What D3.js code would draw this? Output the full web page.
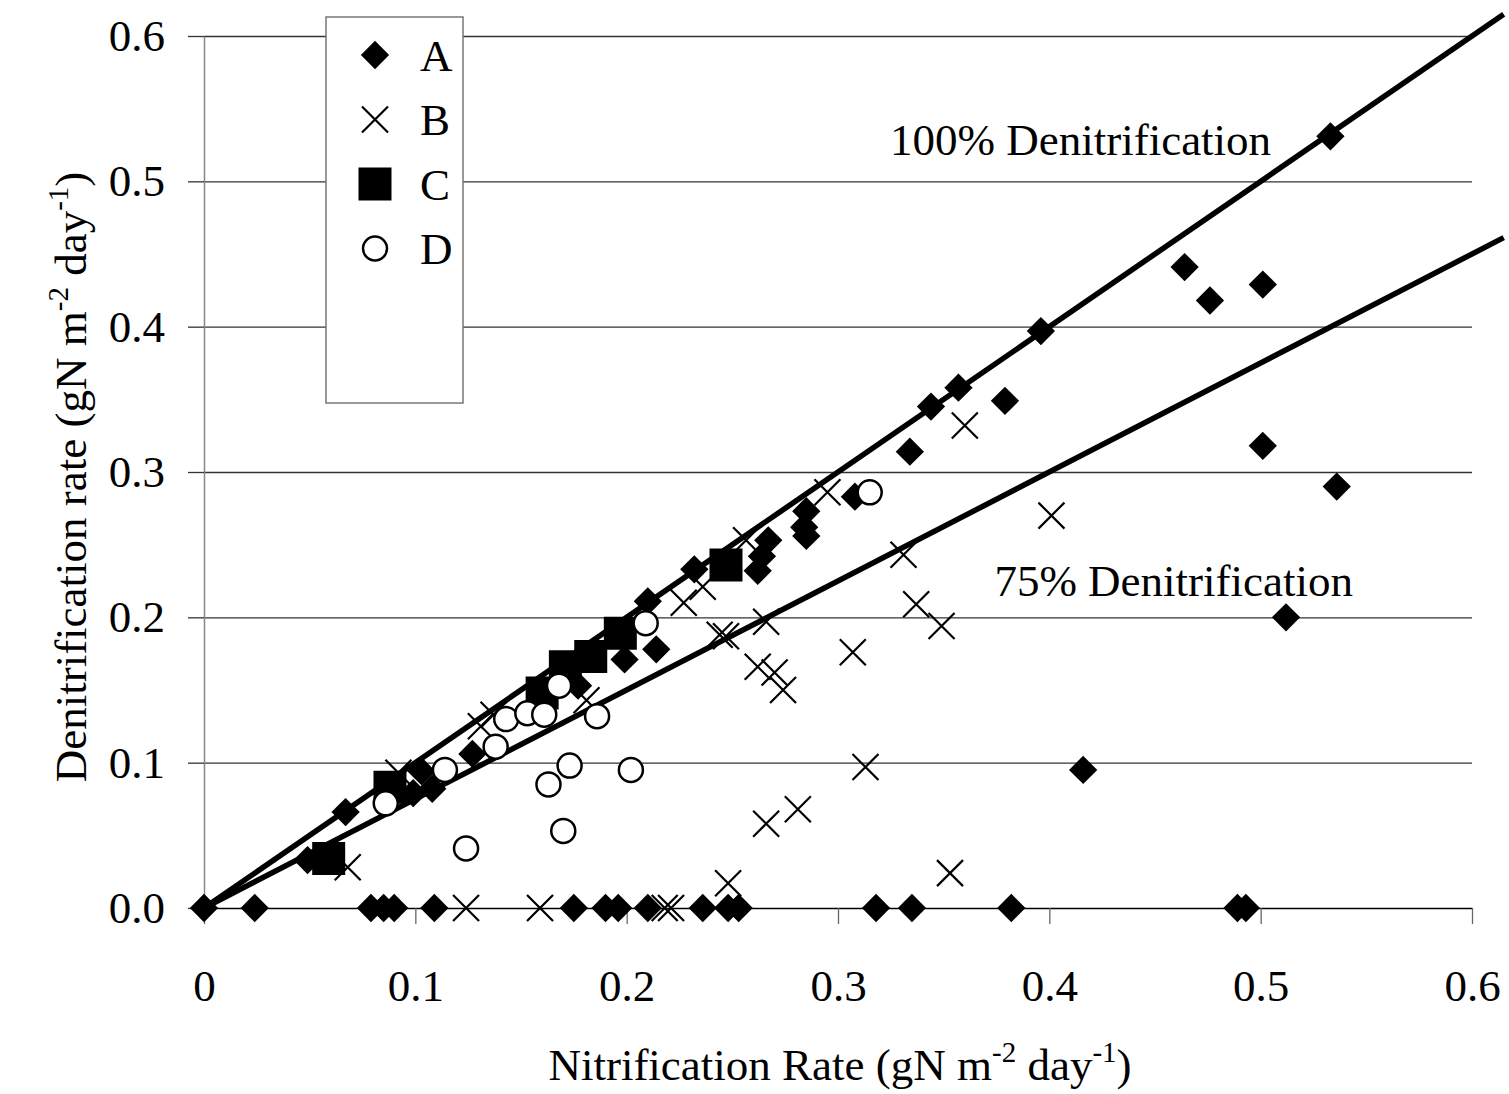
<!DOCTYPE html>
<html>
<head>
<meta charset="utf-8">
<script src="https://cdn.jsdelivr.net/npm/d3@7"></script>
<style>
  html, body { margin: 0; padding: 0; background: #fff; }
  svg text { font-family: "Liberation Serif", "Times New Roman", serif; fill: #000; }
</style>
</head>
<body>
<div id="wrapper"></div>
<script>
// series: [nitrification, denitrification]
const seriesA = [
  [0, 0], [0.024, 0], [0.079, 0], [0.085, 0], [0.09, 0], [0.109, 0], [0.175, 0],
  [0.19, 0], [0.196, 0], [0.21, 0], [0.236, 0], [0.248, 0], [0.253, 0], [0.318, 0],
  [0.335, 0], [0.382, 0], [0.489, 0], [0.493, 0],
  [0.049, 0.033], [0.067, 0.066], [0.099, 0.079], [0.108, 0.082], [0.103, 0.094],
  [0.127, 0.106], [0.177, 0.153], [0.199, 0.171], [0.214, 0.178], [0.21, 0.211],
  [0.232, 0.233], [0.262, 0.232], [0.264, 0.242], [0.267, 0.253], [0.284, 0.262],
  [0.285, 0.256], [0.285, 0.273], [0.308, 0.283], [0.334, 0.314], [0.344, 0.345],
  [0.357, 0.358], [0.379, 0.349], [0.396, 0.397], [0.416, 0.095], [0.464, 0.441],
  [0.476, 0.418], [0.501, 0.429], [0.501, 0.318], [0.512, 0.2], [0.533, 0.531],
  [0.536, 0.29]
];
const seriesB = [
  [0.124, 0], [0.159, 0], [0.218, 0], [0.221, 0],
  [0.068, 0.028], [0.092, 0.093], [0.131, 0.125], [0.137, 0.133], [0.181, 0.143],
  [0.227, 0.21], [0.236, 0.221], [0.244, 0.188], [0.247, 0.187], [0.2565, 0.253],
  [0.262, 0.166], [0.266, 0.197], [0.27, 0.162], [0.274, 0.15], [0.266, 0.058],
  [0.281, 0.068], [0.248, 0.017], [0.295, 0.286], [0.307, 0.176], [0.313, 0.097],
  [0.331, 0.243], [0.337, 0.209], [0.349, 0.194], [0.353, 0.024], [0.36, 0.332],
  [0.401, 0.27]
];
const seriesC = [
  [0.059, 0.034], [0.088, 0.083], [0.16, 0.148], [0.171, 0.166], [0.183, 0.173],
  [0.197, 0.189], [0.247, 0.236]
];
const seriesD = [
  [0.086, 0.072], [0.114, 0.095], [0.124, 0.041], [0.138, 0.111], [0.143, 0.13],
  [0.153, 0.134], [0.161, 0.133], [0.168, 0.153], [0.186, 0.132], [0.173, 0.098],
  [0.202, 0.095], [0.163, 0.085], [0.17, 0.053], [0.209, 0.196], [0.315, 0.286]
];
// reference lines: denitrification = fraction * nitrification
const refLines = [
  { fraction: 1.0, label: "100% Denitrification", at: [0.3246, 0.518] },
  { fraction: 0.75, label: "75% Denitrification", at: [0.374, 0.215] }
];
const xTicks = [0, 0.1, 0.2, 0.3, 0.4, 0.5, 0.6];
const yTicks = [0, 0.1, 0.2, 0.3, 0.4, 0.5, 0.6];
const legendNames = ["A", "B", "C", "D"];

const dimensions = {
  width: 1509,
  height: 1094,
  margin: { top: 36, right: 37, bottom: 186, left: 204 }
};
dimensions.boundsWidth = dimensions.width - dimensions.margin.left - dimensions.margin.right;
dimensions.boundsHeight = dimensions.height - dimensions.margin.top - dimensions.margin.bottom;

const fontSize = 45;

const svg = d3.select("#wrapper").append("svg")
  .attr("width", dimensions.width)
  .attr("height", dimensions.height);

const bounds = svg.append("g")
  .attr("transform", `translate(${dimensions.margin.left},${dimensions.margin.top})`);

const xScale = d3.scaleLinear().domain([0, 0.6]).range([0, dimensions.boundsWidth]);
const yScale = d3.scaleLinear().domain([0, 0.6]).range([dimensions.boundsHeight, 0]);

// horizontal gridlines
const grid = bounds.append("g")
  .call(d3.axisLeft(yScale).tickValues(yTicks.slice(1)).tickSize(-dimensions.boundsWidth).tickFormat(""));
grid.select(".domain").remove();
grid.selectAll("line").attr("stroke", "#333").attr("stroke-width", 1.3);

// y axis
const yAxis = bounds.append("g")
  .call(d3.axisLeft(yScale).tickValues(yTicks).tickSize(16).tickSizeOuter(0)
    .tickPadding(23).tickFormat(d3.format(".1f")));
yAxis.select(".domain").attr("stroke", "#888").attr("stroke-width", 1.5);
yAxis.selectAll("line").attr("stroke", "#333").attr("stroke-width", 1.3);
yAxis.selectAll("text").attr("font-size", fontSize).attr("font-family", "Liberation Serif");

// x axis
const xAxis = bounds.append("g")
  .attr("transform", `translate(0,${dimensions.boundsHeight})`)
  .call(d3.axisBottom(xScale).tickValues(xTicks).tickSize(16).tickSizeOuter(0)
    .tickPadding(45).tickFormat(d => d === 0 ? "0" : d3.format(".1f")(d)));
xAxis.select(".domain").attr("stroke", "#000").attr("stroke-width", 1.5);
xAxis.selectAll("line").attr("stroke", "#666").attr("stroke-width", 1.3);
xAxis.selectAll("text").attr("font-size", fontSize).attr("font-family", "Liberation Serif");

// reference lines
const lineGenerator = d3.line()
  .x(d => xScale(d[0]))
  .y(d => yScale(d[1]));
refLines.forEach(r => {
  bounds.append("path")
    .attr("d", lineGenerator([[0, 0], [0.615, 0.615 * r.fraction]]))
    .attr("fill", "none")
    .attr("stroke", "#000")
    .attr("stroke-width", 5.5);
  bounds.append("text")
    .attr("x", xScale(r.at[0]))
    .attr("y", yScale(r.at[1]))
    .attr("font-size", fontSize)
    .text(r.label);
});

// marker shapes
const diamondPath = d3.symbol(d3.symbolSquare, 400)();
const squarePath = d3.symbol(d3.symbolSquare, 1089)();
const crossPath = "M-13,-13L13,13M-13,13L13,-13";

function drawDiamond(g, x, y) {
  g.append("path").attr("d", diamondPath)
    .attr("transform", `translate(${x},${y}) rotate(45)`).attr("fill", "#000");
}
function drawCross(g, x, y) {
  g.append("path").attr("d", crossPath)
    .attr("transform", `translate(${x},${y})`)
    .attr("fill", "none").attr("stroke", "#000").attr("stroke-width", 2.2);
}
function drawSquare(g, x, y) {
  g.append("path").attr("d", squarePath)
    .attr("transform", `translate(${x},${y})`).attr("fill", "#000");
}
function drawCircle(g, x, y) {
  g.append("circle").attr("cx", x).attr("cy", y).attr("r", 12)
    .attr("fill", "#fff").attr("stroke", "#000").attr("stroke-width", 2.5);
}
const drawers = [drawDiamond, drawCross, drawSquare, drawCircle];

[seriesA, seriesB, seriesC, seriesD].forEach((series, i) => {
  const g = bounds.append("g");
  series.forEach(d => drawers[i](g, xScale(d[0]), yScale(d[1])));
});

// legend
const legend = svg.append("g");
legend.append("rect")
  .attr("x", 326).attr("y", 17).attr("width", 137).attr("height", 386)
  .attr("fill", "#fff").attr("stroke", "#777").attr("stroke-width", 1.5);
legendNames.forEach((name, i) => {
  const cy = 55 + i * 64.5;
  drawers[i](legend, 375, cy);
  legend.append("text")
    .attr("x", 420).attr("y", cy).attr("dy", "0.35em")
    .attr("font-size", fontSize)
    .text(name);
});

// axis titles
function titleText(sel, main) {
  sel.append("tspan").text(main + " (gN m");
  sel.append("tspan").attr("font-size", 29).attr("dy", -18).text("-2");
  sel.append("tspan").attr("dy", 18).text(" day");
  sel.append("tspan").attr("font-size", 29).attr("dy", -18).text("-1");
  sel.append("tspan").attr("dy", 18).text(")");
}
svg.append("text")
  .attr("x", 840).attr("y", 1080)
  .attr("text-anchor", "middle")
  .attr("font-size", fontSize)
  .call(titleText, "Nitrification Rate");

svg.append("text")
  .attr("transform", "translate(86,477) rotate(-90)")
  .attr("text-anchor", "middle")
  .attr("font-size", fontSize)
  .call(titleText, "Denitrification rate");
</script>
</body>
</html>
